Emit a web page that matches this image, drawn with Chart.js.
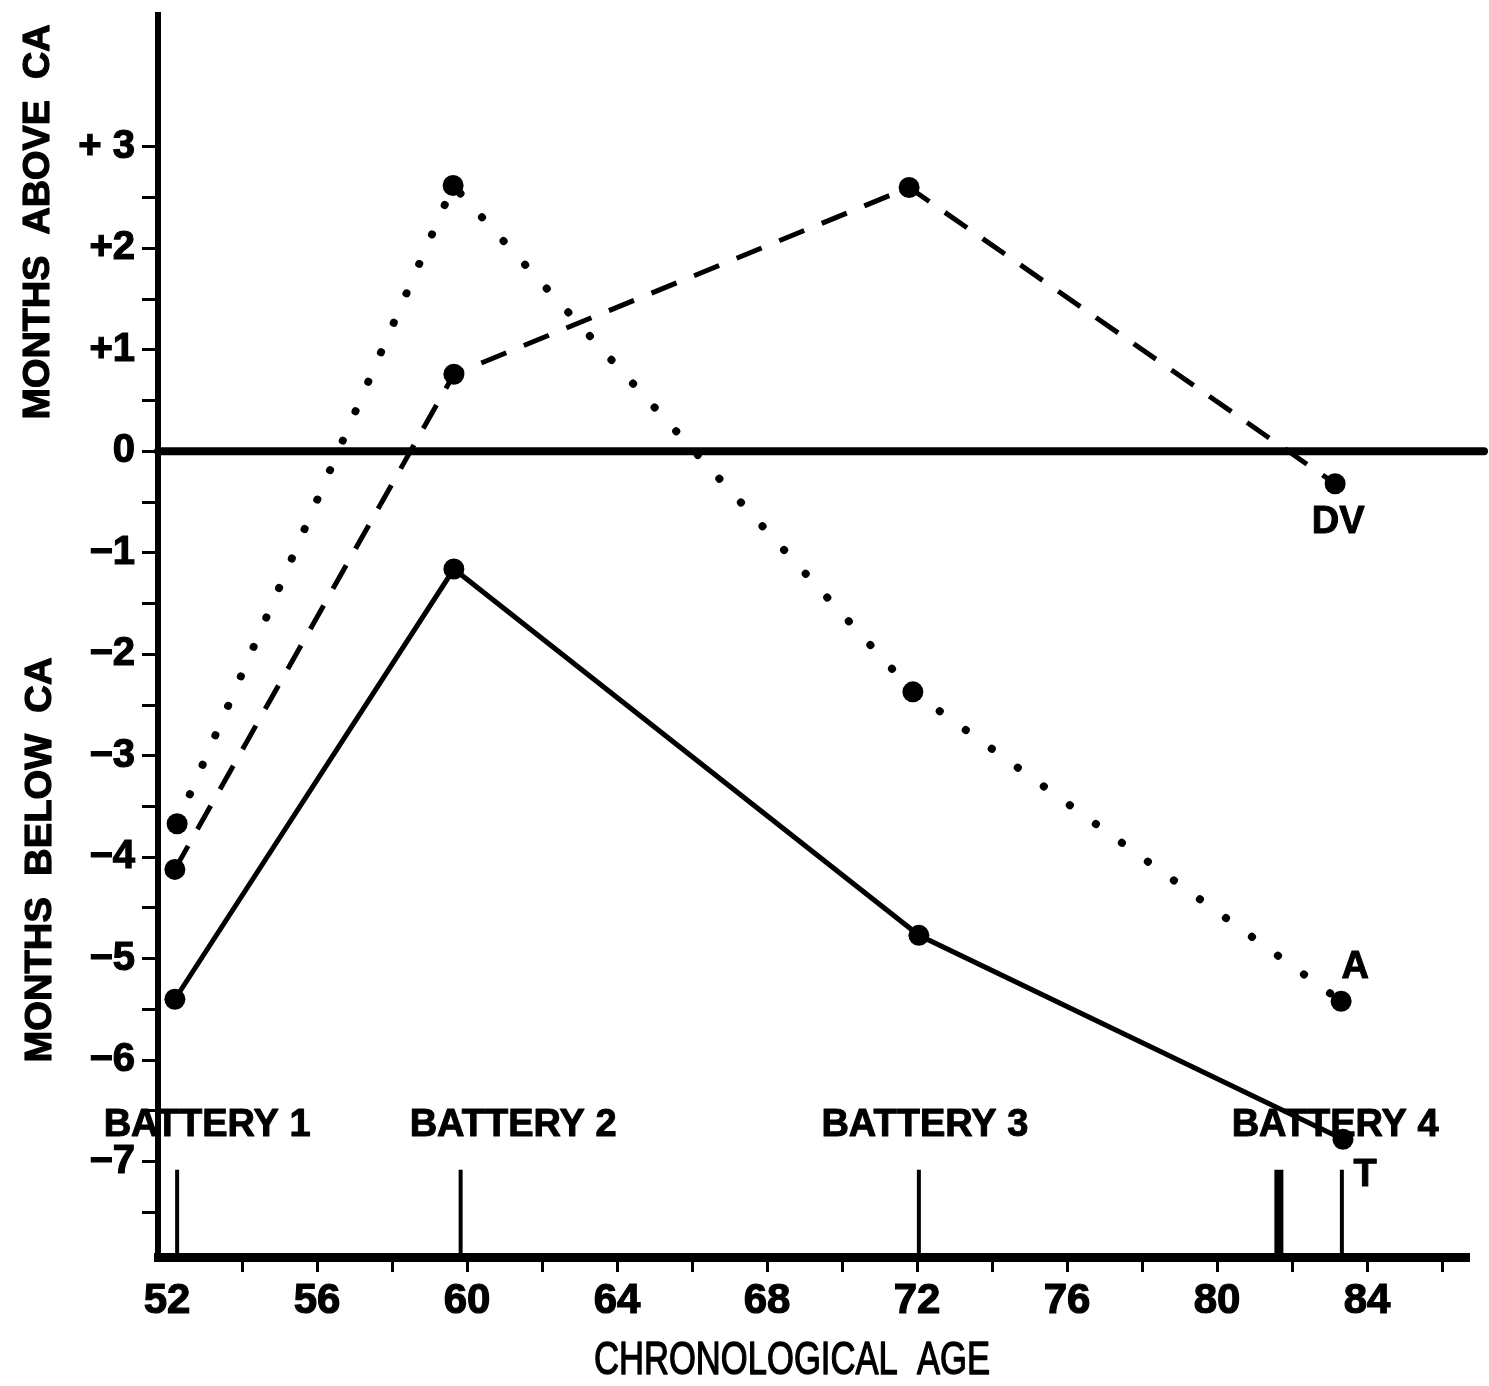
<!DOCTYPE html>
<html>
<head>
<meta charset="utf-8">
<script src="https://cdn.jsdelivr.net/npm/chart.js@4/dist/chart.umd.min.js"></script>
<style>
  html, body { margin: 0; padding: 0; background: #fff; }
  canvas { display: block; }
</style>
</head>
<body>
<canvas id="chart" width="1489" height="1386"></canvas>
<script>
// Months above / below chronological age (CA) at each testing age, per measure
const ageA     = [52.27, 59.63, 71.89, 83.31];
const monthsA  = [-3.67, 2.62, -2.37, -5.42];
const ageDV    = [52.21, 59.65, 71.79, 83.15];
const monthsDV = [-4.12, 0.76, 2.60, -0.32];
const ageT     = [52.21, 59.65, 72.05, 83.36];
const monthsT  = [-5.40, -1.16, -4.77, -6.78];
const seriesNames = ['A', 'DV', 'T'];

// Testing sessions, marked along the age axis
const batteryNames = ['BATTERY 1', 'BATTERY 2', 'BATTERY 3', 'BATTERY 4'];
const batteryAges  = [52.27, 59.83, 72.05, 81.65, 83.33];

// Axis ticks
const xTickValues = [52, 54, 56, 58, 60, 62, 64, 66, 68, 70, 72, 74, 76, 78, 80, 82, 84, 86];
const xTickLabels = ['52', '56', '60', '64', '68', '72', '76', '80', '84'];
const yTickValues = [-7.5, -7, -6.5, -6, -5.5, -5, -4.5, -4, -3.5, -3, -2.5, -2, -1.5, -1, -0.5,
                     0, 0.5, 1, 1.5, 2, 2.5, 3];
const yTickLabels = ['\u22127', '\u22126', '\u22125', '\u22124', '\u22123', '\u22122', '\u22121',
                     '0', '+1', '+2', '+ 3'];

// Layout and styling
const FONT = '"Liberation Sans", Arial, Helvetica, sans-serif';
const RANGE = { xMin: 51.76, xMax: 86.72, yMin: -7.94, yMax: 4.3 };
const MARKER_TOP = -7.08;                       // top of the session markers (y units)
const MARKER_WIDTHS = [4, 4, 4, 9, 4];
const BATTERY_LABEL_AGE = [53.07, 61.23, 72.21, 83.15];
const BATTERY_LABEL_Y = -6.64;
const SERIES_LABEL_OFFSET = { A: [14, -34], DV: [3, 39], T: [22, 36] };

function toPoints(xs, ys) { return xs.map((x, i) => ({ x, y: ys[i] })); }

function drawText(ctx, text, x, y, font, opts = {}) {
  ctx.save();
  ctx.translate(x, y);
  if (opts.rotate) ctx.rotate(opts.rotate);
  ctx.font = font;
  ctx.fillStyle = '#000';
  ctx.textAlign = 'center';
  ctx.textBaseline = 'middle';
  if (opts.width) {
    const w = ctx.measureText(text).width;
    ctx.scale(opts.width / w, 1);
  }
  ctx.fillText(text, 0, 0);
  if (opts.stroke) {
    ctx.lineWidth = opts.stroke;
    ctx.lineJoin = 'round';
    ctx.strokeStyle = '#000';
    ctx.strokeText(text, 0, 0);
  }
  ctx.restore();
}

const annotations = {
  id: 'annotations',
  beforeDatasetsDraw(chart) {
    const { ctx, chartArea } = chart;
    const xs = chart.scales.x, ys = chart.scales.y;
    ctx.save();
    ctx.strokeStyle = '#000';
    // zero line (CA) running across the full width
    const y0 = ys.getPixelForValue(0);
    ctx.lineWidth = 8;
    ctx.lineCap = 'round';
    ctx.beginPath();
    ctx.moveTo(chartArea.left, y0);
    ctx.lineTo(chart.width - 5, y0);
    ctx.stroke();
    // session markers standing on the age axis
    ctx.lineCap = 'butt';
    const top = ys.getPixelForValue(MARKER_TOP);
    batteryAges.forEach((a, i) => {
      const px = xs.getPixelForValue(a);
      ctx.lineWidth = MARKER_WIDTHS[i];
      ctx.beginPath();
      ctx.moveTo(px, top);
      ctx.lineTo(px, chartArea.bottom);
      ctx.stroke();
    });
    ctx.restore();
  },
  afterDraw(chart) {
    const { ctx } = chart;
    const xs = chart.scales.x, ys = chart.scales.y;
    // axis titles
    drawText(ctx, 'MONTHS  ABOVE  CA', 39, 222, 'bold 37px ' + FONT, { rotate: -Math.PI / 2, width: 395, stroke: 1.2 });
    drawText(ctx, 'MONTHS  BELOW  CA', 41, 860, 'bold 37px ' + FONT, { rotate: -Math.PI / 2, width: 405, stroke: 1.2 });
    drawText(ctx, 'CHRONOLOGICAL  AGE', 792, 1361, '46px ' + FONT, { width: 396, stroke: 1.4 });
    // session names
    batteryNames.forEach((name, i) => {
      drawText(ctx, name, xs.getPixelForValue(BATTERY_LABEL_AGE[i]), ys.getPixelForValue(BATTERY_LABEL_Y),
               'bold 38px ' + FONT, { stroke: 1 });
    });
    // series names beside their final points
    chart.data.datasets.forEach((ds) => {
      const last = ds.data[ds.data.length - 1];
      const off = SERIES_LABEL_OFFSET[ds.label];
      drawText(ctx, ds.label, xs.getPixelForValue(last.x) + off[0], ys.getPixelForValue(last.y) + off[1],
               'bold 38px ' + FONT, { stroke: 1 });
    });
  }
};

const pointStyle = { pointRadius: 10.5, pointBackgroundColor: '#000', pointBorderWidth: 0, pointHoverRadius: 10.5 };

new Chart(document.getElementById('chart'), {
  type: 'line',
  data: {
    datasets: [
      Object.assign({
        label: seriesNames[0], data: toPoints(ageA, monthsA),
        borderColor: '#000', borderWidth: 8, borderDash: [0.1, 32], borderCapStyle: 'round'
      }, pointStyle),
      Object.assign({
        label: seriesNames[1], data: toPoints(ageDV, monthsDV),
        borderColor: '#000', borderWidth: 5, borderDash: [27, 19], borderCapStyle: 'butt'
      }, pointStyle),
      Object.assign({
        label: seriesNames[2], data: toPoints(ageT, monthsT),
        borderColor: '#000', borderWidth: 5
      }, pointStyle)
    ]
  },
  options: {
    responsive: false,
    animation: false,
    events: [],
    layout: { padding: { top: 15, right: 20, left: 0, bottom: 0 } },
    plugins: { legend: { display: false }, tooltip: { enabled: false } },
    elements: { line: { tension: 0 } },
    scales: {
      x: {
        type: 'linear',
        min: RANGE.xMin, max: RANGE.xMax,
        afterBuildTicks(s) { s.ticks = xTickValues.map(v => ({ value: v })); },
        afterFit(s) { s.height = 129; s.paddingLeft = 0; s.paddingRight = 0; },
        ticks: {
          autoSkip: false, maxRotation: 0, minRotation: 0, padding: 4, color: '#000',
          textStrokeColor: '#000', textStrokeWidth: 1.2,
          font: { family: FONT, size: 42, weight: 'bold' },
          callback: (v) => (v % 4 === 0 ? xTickLabels[(v - 52) / 4] : '')
        },
        grid: {
          drawOnChartArea: false, tickLength: 15, tickWidth: 3,
          tickColor: (c) => (c.tick && c.tick.value === 52 ? 'rgba(0,0,0,0)' : '#000')
        },
        border: { display: true, width: 9, color: '#000' }
      },
      y: {
        type: 'linear',
        min: RANGE.yMin, max: RANGE.yMax,
        afterBuildTicks(s) { s.ticks = yTickValues.map(v => ({ value: v })); },
        afterFit(s) { s.width = 158; s.paddingTop = 0; s.paddingBottom = 0; },
        ticks: {
          autoSkip: false, padding: 7, color: '#000',
          textStrokeColor: '#000', textStrokeWidth: 1.2,
          font: { family: FONT, size: 40, weight: 'bold' },
          callback: (v) => (Number.isInteger(v) ? yTickLabels[v + 7] : '')
        },
        grid: { drawOnChartArea: false, tickLength: 16, tickWidth: 3, tickColor: '#000' },
        border: { display: true, width: 6, color: '#000' }
      }
    }
  },
  plugins: [annotations]
});
</script>
</body>
</html>
